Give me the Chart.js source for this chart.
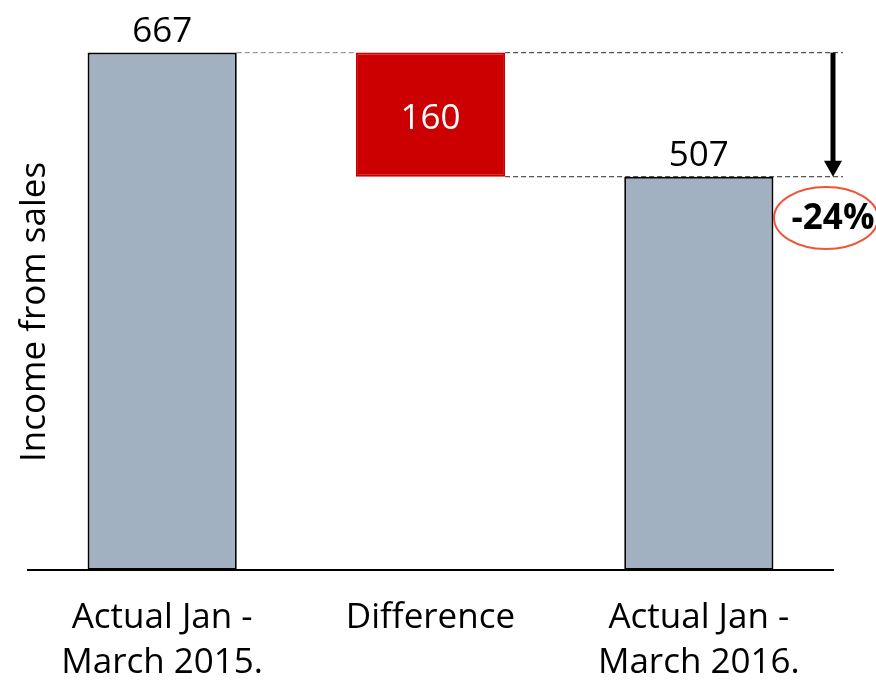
<!DOCTYPE html>
<html>
<head>
<meta charset="utf-8">
<script src="https://cdn.jsdelivr.net/npm/chart.js@4"></script>
<style>
html,body{margin:0;padding:0;background:#fff;}
#wrap{width:876px;height:682px;position:relative;}
</style>
</head>
<body>
<div id="wrap"><canvas id="c" width="876" height="682"></canvas></div>
<script>
// ---- data ----
const categories = [["Actual Jan -", "March 2015."], "Difference", ["Actual Jan -", "March 2016."]];
const startValue = 667;
const difference = 160;
const endValue = 507;
const changeLabel = "-24%";
const yTitle = "Income from sales";

const floating = [[0, startValue], [startValue - difference, startValue], [0, endValue]];
const displayValues = [startValue, difference, endValue];

const FONT = "'Open Sans', sans-serif";

const annotate = {
  id: 'annotate',
  beforeDatasetsDraw(chart) {
    const ctx = chart.ctx;
    const meta = chart.getDatasetMeta(0);
    const b0 = meta.data[0], b1 = meta.data[1];
    const y = chart.scales.y;
    const xEnd = 843;
    ctx.save();
    ctx.setLineDash([5, 3]);
    ctx.lineWidth = 1.2;
    ctx.strokeStyle = '#9a9a9a';
    ctx.beginPath();
    ctx.moveTo(b0.x + b0.width / 2, y.getPixelForValue(startValue));
    ctx.lineTo(b1.x - b1.width / 2, y.getPixelForValue(startValue));
    ctx.stroke();
    ctx.strokeStyle = '#555';
    ctx.beginPath();
    ctx.moveTo(b1.x + b1.width / 2, y.getPixelForValue(startValue));
    ctx.lineTo(xEnd, y.getPixelForValue(startValue));
    ctx.moveTo(b1.x + b1.width / 2, y.getPixelForValue(endValue));
    ctx.lineTo(xEnd, y.getPixelForValue(endValue));
    ctx.stroke();
    ctx.restore();
  },
  afterDatasetsDraw(chart) {
    const ctx = chart.ctx;
    const meta = chart.getDatasetMeta(0);
    const y = chart.scales.y;
    ctx.save();
    // value labels
    ctx.font = "35px " + FONT;
    ctx.textAlign = 'center';
    ctx.textBaseline = 'alphabetic';
    ctx.fillStyle = '#000';
    ctx.fillText(String(displayValues[0]), meta.data[0].x, meta.data[0].y - 11);
    ctx.fillText(String(displayValues[2]), meta.data[2].x, meta.data[2].y - 11);
    ctx.fillStyle = '#fff';
    ctx.textBaseline = 'middle';
    const b1 = meta.data[1];
    ctx.fillText(String(displayValues[1]), b1.x, (b1.y + b1.base) / 2 + 4);

    // arrow
    const ax = 833;
    const yTop = y.getPixelForValue(startValue);
    const yBot = y.getPixelForValue(endValue);
    ctx.strokeStyle = '#000';
    ctx.fillStyle = '#000';
    ctx.lineWidth = 5;
    ctx.beginPath();
    ctx.moveTo(ax, yTop);
    ctx.lineTo(ax, yBot - 12);
    ctx.stroke();
    ctx.beginPath();
    ctx.moveTo(ax - 9, yBot - 16);
    ctx.lineTo(ax + 9, yBot - 16);
    ctx.lineTo(ax, yBot);
    ctx.closePath();
    ctx.fill();

    // ellipse + percent
    ctx.strokeStyle = '#EE5535';
    ctx.lineWidth = 2;
    ctx.beginPath();
    ctx.ellipse(826, 218, 52, 31, 0, 0, Math.PI * 2);
    ctx.stroke();
    ctx.fillStyle = '#000';
    ctx.font = "bold 35px " + FONT;
    ctx.textAlign = 'center';
    ctx.textBaseline = 'middle';
    ctx.fillText(changeLabel, 833, 219);

    // y title
    ctx.translate(35, 312);
    ctx.rotate(-Math.PI / 2);
    ctx.font = "35px " + FONT;
    ctx.fillText(yTitle, 0, 0);
    ctx.restore();
  }
};

new Chart(document.getElementById('c'), {
  type: 'bar',
  data: {
    labels: categories,
    datasets: [{
      data: floating,
      backgroundColor: ['#A2B1C1', '#CC0000', '#A2B1C1'],
      borderColor: ['#000', '#CC0000', '#000'],
      borderWidth: 2,
      borderSkipped: false,
      categoryPercentage: 1,
      barPercentage: 0.556
    }]
  },
  options: {
    responsive: false,
    animation: false,
    devicePixelRatio: 1,
    layout: { padding: { left: 28, right: 43, top: 27, bottom: 0 } },
    plugins: { legend: { display: false }, tooltip: { enabled: false } },
    scales: {
      x: {
        grid: { display: false, drawTicks: false },
        border: { display: true, color: '#000', width: 2 },
        ticks: { color: '#000', font: { family: FONT, size: 35, lineHeight: 1.3 }, padding: 25, maxRotation: 0, autoSkip: false },
        afterFit(scale) { scale.height = 112; }
      },
      y: {
        display: false,
        min: 0,
        max: 700
      }
    }
  },
  plugins: [annotate]
});
</script>
</body>
</html>
